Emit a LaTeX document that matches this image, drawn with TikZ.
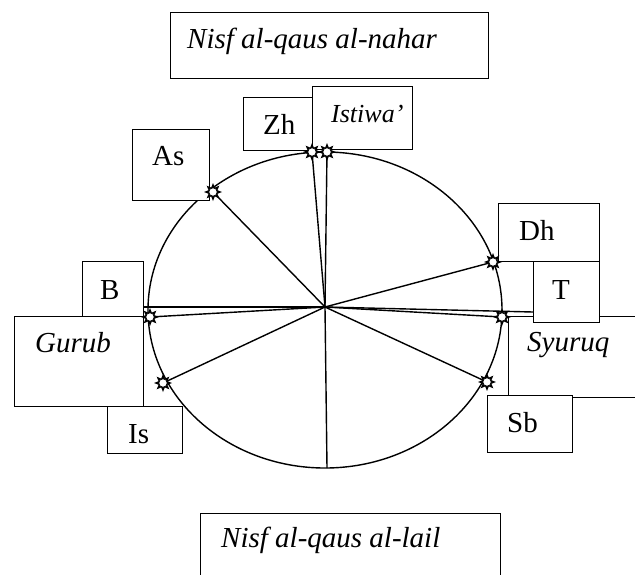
\documentclass[tikz,border=0pt]{standalone}
\usepackage{fontspec}
\setmainfont{Liberation Serif}
\usetikzlibrary{shapes.geometric}
\tikzset{
  x=1pt,y=-1pt,
  ln/.style={line width=1.4pt,black},
  bx/.style={line width=1.4pt,draw=black,fill=white},
  lbl/.style={anchor=base west,inner sep=0pt,font=\fontsize{29}{33}\selectfont},
  ilbl/.style={lbl,font=\fontsize{29}{33}\selectfont\itshape},
  sun/.pic={
    \node[star,star points=8,star point ratio=1.9,fill=black,minimum size=18pt,inner sep=0pt] {};
    \filldraw[fill=white,draw=black,line width=0.7pt] (0,0) circle (4.2pt);
  }
}
\begin{document}
\begin{tikzpicture}
\useasboundingbox (0,0) rectangle (635,574);
\clip (0,0) rectangle (635,574);
% ellipse
\draw[ln] (325,310) ellipse [x radius=177pt, y radius=158pt];
% points
\coordinate (O) at (325,307);
\coordinate (pZh) at (312,152);
\coordinate (pIs) at (327,152);
\coordinate (pAs) at (213,192);
\coordinate (pDh) at (493,262);
\coordinate (pT) at (502,317);
\coordinate (eT) at (533,312);
\coordinate (pB) at (150,317);
\coordinate (eB) at (144,307);
\coordinate (pIsy) at (163,383);
\coordinate (pSb) at (487,382);
\coordinate (pBot) at (327,468);
% connectors
\foreach \p in {pZh,pIs,pAs,pDh,pT,eT,pB,eB,pIsy,pSb,pBot}
  \draw[ln] (O) -- (\p);
% boxes
\node[bx,minimum width=318pt,minimum height=66pt,anchor=north west] (nahar) at (170,12) {};
\node[bx,minimum width=69pt,minimum height=53pt,anchor=north west] (zh) at (243,97) {};
\node[bx,minimum width=100pt,minimum height=63pt,anchor=north west] (ist) at (312,86) {};
\node[bx,minimum width=77pt,minimum height=71pt,anchor=north west] (as) at (132,129) {};
\node[bx,minimum width=101pt,minimum height=58pt,anchor=north west] (dh) at (498,203) {};
\node[bx,minimum width=160pt,minimum height=81pt,anchor=north west] (syu) at (508,316) {};
\node[bx,minimum width=66pt,minimum height=61pt,anchor=north west] (t) at (533,261) {};
\node[bx,minimum width=129pt,minimum height=90pt,anchor=north west] (gur) at (14,316) {};
\node[bx,minimum width=61pt,minimum height=55pt,anchor=north west] (b) at (82,261) {};
\node[bx,minimum width=75pt,minimum height=47pt,anchor=north west] (isb) at (107,406) {};
\node[bx,minimum width=85pt,minimum height=57pt,anchor=north west] (sb) at (487,395) {};
\node[bx,minimum width=300pt,minimum height=90pt,anchor=north west] (lail) at (200,513) {};
% labels
\node[ilbl] (tnahar) at (187,48) {Nisf al-qaus al-nahar};
\node[lbl] (tzh) at (263,134) {Zh};
\node[ilbl,font=\fontsize{26}{30}\selectfont\itshape] (tist) at (331,122) {Istiwa’};
\node[lbl] (tas) at (152,165) {As};
\node[lbl] (tdh) at (519,240) {Dh};
\node[lbl] (tt) at (552,299) {T};
\node[ilbl] (tsyu) at (527,351) {Syuruq};
\node[lbl] (tb) at (100,299) {B};
\node[ilbl] (tgur) at (35,352) {Gurub};
\node[lbl] (tis) at (128,443) {Is};
\node[lbl] (tsb) at (507,432) {Sb};
\node[ilbl] (tlail) at (221,547) {Nisf al-qaus al-lail};
% markers
\foreach \p in {pZh,pIs,pAs,pDh,pT,pB,pIsy,pSb}
  \pic at (\p) {sun};
\end{tikzpicture}
\end{document}
